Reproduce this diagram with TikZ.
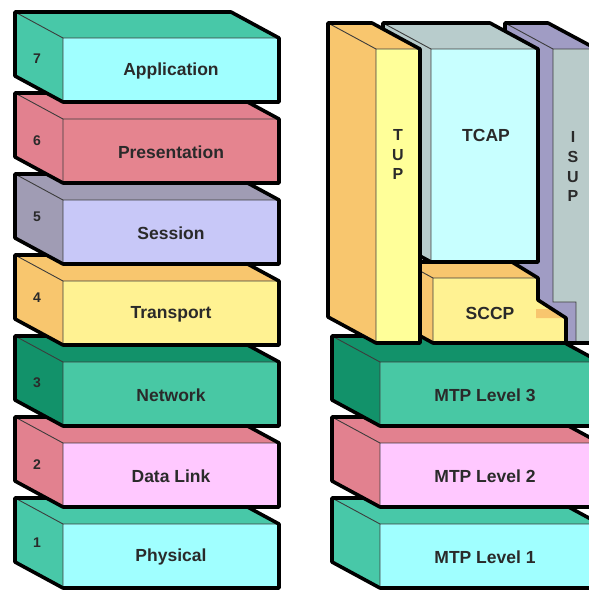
\documentclass[tikz,border=0pt]{standalone}
\usepackage{fontspec}
\setmainfont{Liberation Sans}
\definecolor{txt}{HTML}{2A2A2A}
\definecolor{edge}{HTML}{3C3C3C}
\definecolor{tealS}{HTML}{48C8A8}
\definecolor{cyanF}{HTML}{A0FFFF}
\definecolor{roseS}{HTML}{E2818F}
\definecolor{roseF}{HTML}{E5848F}
\definecolor{greyS}{HTML}{A09CB4}
\definecolor{lavF}{HTML}{C8C8F8}
\definecolor{orS}{HTML}{F8C66E}
\definecolor{yelF}{HTML}{FFF292}
\definecolor{dgS}{HTML}{12926A}
\definecolor{netF}{HTML}{48C8A4}
\definecolor{pinkF}{HTML}{FFC8FF}
\definecolor{tupF}{HTML}{FFFF99}
\definecolor{tcS}{HTML}{B8CCCC}
\definecolor{tcF}{HTML}{C8FFFF}
\definecolor{isS}{HTML}{A09CC4}
\definecolor{isF}{HTML}{B9CBCA}
\tikzset{
  outer/.style={draw=black,line width=3.6pt,line join=round},
  inner/.style={draw=edge,line width=0.9pt},
  lbl/.style={font=\bfseries\fontsize{17.5}{19}\selectfont,text=txt,inner sep=0pt},
  num/.style={font=\bfseries\fontsize{14}{16}\selectfont,text=txt,inner sep=0pt},
  vlt/.style={font=\bfseries\fontsize{16}{18}\selectfont,text=txt,inner sep=0pt}
}
% #1 back-left x, #2 top y, #3 back-right x, #4 height, #5 side colour, #6 front colour
\newcommand\layerbox[6]{%
  \fill[#5] (#1,#2) -- (#3,#2) -- ({#3+48},{#2+26}) -- ({#3+48},{#2+26+#4}) -- ({#1+48},{#2+26+#4}) -- (#1,{#2+#4}) -- cycle;
  \fill[#6] ({#1+48},{#2+26}) rectangle ({#3+48},{#2+26+#4});
  \draw[inner] (#1,#2) -- ({#1+48},{#2+26}) -- ({#3+48},{#2+26}) ({#1+48},{#2+26}) -- ({#1+48},{#2+26+#4});
  \draw[outer] (#1,#2) -- (#3,#2) -- ({#3+48},{#2+26}) -- ({#3+48},{#2+26+#4}) -- ({#1+48},{#2+26+#4}) -- (#1,{#2+#4}) -- cycle;
}
\begin{document}
\begin{tikzpicture}[x=1pt,y=-1pt]
\useasboundingbox (0,0) rectangle (589,592);
\fill[white] (0,0) rectangle (589,592);
\begin{scope}
\clip (0,0) rectangle (589,592);
% OSI stack, bottom to top
\layerbox{15}{498}{231}{64}{tealS}{cyanF}
\layerbox{15}{417}{231}{64}{roseS}{pinkF}
\layerbox{15}{336}{231}{64}{dgS}{netF}
\layerbox{15}{255}{231}{64}{orS}{yelF}
\layerbox{15}{174}{231}{64}{greyS}{lavF}
\layerbox{15}{93}{231}{64}{roseS}{roseF}
\layerbox{15}{12}{231}{64}{tealS}{cyanF}
% MTP levels
\layerbox{332}{498}{552}{64}{tealS}{cyanF}
\layerbox{332}{417}{552}{64}{roseS}{pinkF}
\layerbox{332}{336}{552}{64}{dgS}{netF}
% ISUP
\fill[isS] (505,23) -- (548,23) -- (604,53) -- (604,343) -- (505,343) -- cycle;
\fill[isF] (553,49) -- (604,49) -- (604,343) -- (576,343) -- (576,302) -- (553,302) -- cycle;
\draw[inner] (505,23) -- (553,49) -- (604,49) (553,49) -- (553,302) -- (576,302) -- (576,343);
\draw[outer] (505,343) -- (505,23) -- (548,23) -- (604,53) (505,343) -- (604,343);
% TCAP
\layerbox{383}{23}{490}{213}{tcS}{tcF}
% SCCP
\fill[orS] (400,262) -- (512,262) -- (538,278) -- (538,300) -- (566,318) -- (566,343) -- (433,343) -- (400,325) -- cycle;
\fill[yelF] (433,278) -- (538,278) -- (538,300) -- (566,318) -- (566,343) -- (433,343) -- cycle;
\fill[orS] (536,309) -- (552,309) -- (566,318) -- (536,318) -- cycle;
\draw[inner] (400,260) -- (433,278) -- (538,278) (433,278) -- (433,343);
\draw[outer] (400,262) -- (512,262) -- (538,278) -- (538,300) -- (566,318) -- (566,343) -- (433,343) -- (400,325);
% TUP
\layerbox{328}{23}{372}{294}{orS}{tupF}
\end{scope}
% labels
\node[lbl] (l7) at (171,71) {Application};
\node[lbl] (l6) at (171,152) {Presentation};
\node[lbl] (l5) at (171,233) {Session};
\node[lbl] (l4) at (171,314) {Transport};
\node[lbl] (l3) at (171,395) {Network};
\node[lbl] (l2) at (171,476) {Data Link};
\node[lbl] (l1) at (171,557) {Physical};
\node[num] (n7) at (37,59) {7};
\node[num] (n6) at (37,141) {6};
\node[num] (n5) at (37,217) {5};
\node[num] (n4) at (37,298) {4};
\node[num] (n3) at (37,383) {3};
\node[num] (n2) at (37,465) {2};
\node[num] (n1) at (37,543) {1};
\node[lbl] (m3) at (485,395) {MTP Level 3};
\node[lbl] (m2) at (485,476) {MTP Level 2};
\node[lbl] (m1) at (485,557) {MTP Level 1};
\node[lbl] (tcap) at (486,135) {TCAP};
\node[lbl] (sccp) at (490,313) {SCCP};
\node[vlt] (tupT) at (398,135) {T};
\node[vlt] (tupU) at (398,155) {U};
\node[vlt] (tupP) at (398,174) {P};
\node[vlt] (isI) at (573,137) {I};
\node[vlt] (isS) at (573,157) {S};
\node[vlt] (isU) at (573,177) {U};
\node[vlt] (isP) at (573,196) {P};
\end{tikzpicture}
\end{document}
